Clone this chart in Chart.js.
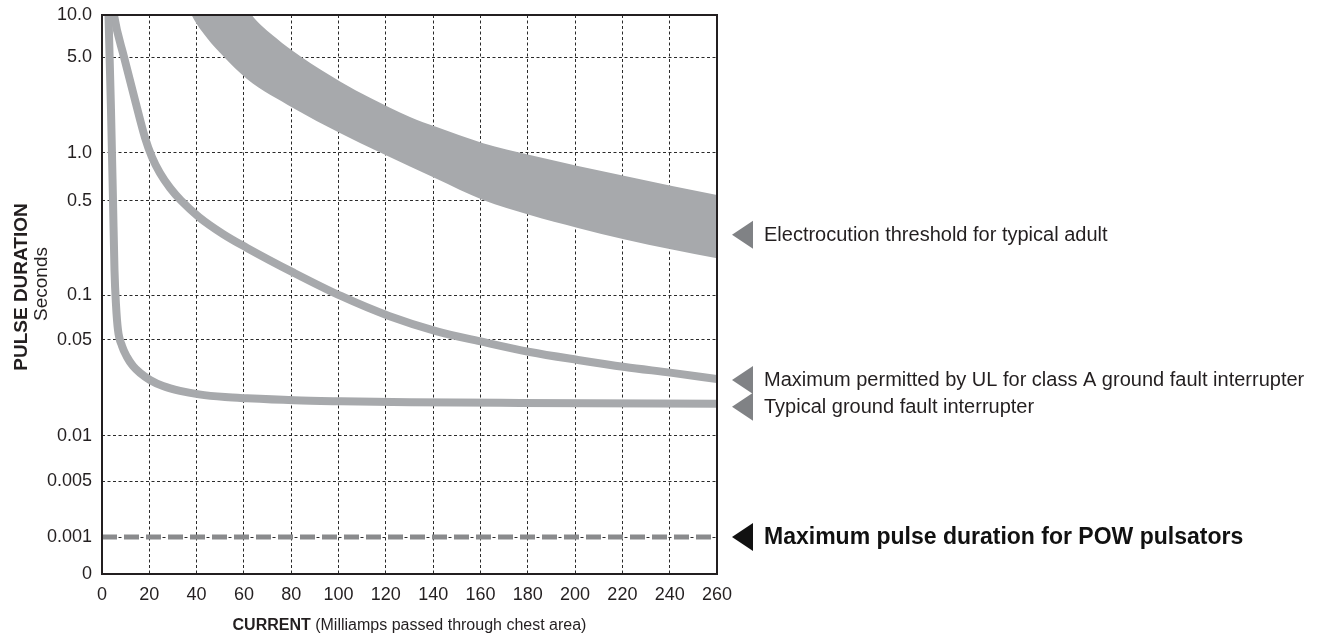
<!DOCTYPE html>
<html>
<head>
<meta charset="utf-8">
<script src="https://cdn.jsdelivr.net/npm/chart.js@4.4.1/dist/chart.umd.min.js"></script>
<style>
  html, body { margin: 0; padding: 0; background: #fff; }
</style>
</head>
<body>
<canvas id="chart" width="1317" height="641"></canvas>
<script>
// Vertical axis: pulse duration (s). The printed grid is roughly logarithmic
// but squeezed below 0.005, so each tick gets its own place on the axis.
const yTickValues = [0, 0.001, 0.005, 0.01, 0.05, 0.1, 0.5, 1, 5, 10];
const yTickLabels = ['0', '0.001', '0.005', '0.01', '0.05', '0.1', '0.5', '1.0', '5.0', '10.0'];
const yTickPlace  = [0, 37, 93, 138, 234, 279, 373, 421, 517, 559];

// Electrocution threshold band (current mA -> seconds); first points sit above the frame
const bandLowCurrent  = [33, 37.9, 44.4, 51.2, 61.3, 80.8, 100.6, 117.6, 130.2, 141.2, 161.1, 180.9, 201.2, 221.1, 241, 260];
const bandLowSeconds  = [16.4, 10, 6.84, 5.08, 3.46, 2.13, 1.40, 1.01, 0.823, 0.692, 0.507, 0.393, 0.315, 0.259, 0.218, 0.188];
const bandHighCurrent = [33, 56.7, 63.3, 73.6, 83.7, 101, 113.3, 130.2, 141.2, 161.1, 180.9, 201.2, 221.1, 241, 260];
const bandHighSeconds = [90, 15.1, 10, 6.84, 5.08, 3.29, 2.52, 1.83, 1.55, 1.18, 0.971, 0.829, 0.717, 0.621, 0.545];

// UL class A GFI limit
const ulCurrent = [3.8, 5.07, 9.3, 13.95, 18.2, 21.1, 24.5, 28.8, 33.4, 41, 51.2, 61.3, 81.2, 101, 121.3, 141.2, 161.1, 180.9, 201.2, 221.1, 241, 260];
const ulSeconds = [15, 10, 5.0, 2.43, 1.29, 0.944, 0.749, 0.603, 0.503, 0.380, 0.284, 0.224, 0.146, 0.0985, 0.0724, 0.0574, 0.0484, 0.0409, 0.0358, 0.0318, 0.0288, 0.0260];

// Typical GFI trip curve
const gfiCurrent = [2.11, 2.75, 3.8, 4.65, 5.28, 5.92, 6.76, 8.46, 10.57, 13.11, 16.07, 20.29, 25.79, 32.98, 41, 52, 61.3, 81.2, 101, 130.2, 176.7, 260];
const gfiSeconds = [17.8, 10, 2.06, 0.503, 0.153, 0.0857, 0.0583, 0.0452, 0.0376, 0.0323, 0.0288, 0.0256, 0.0231, 0.0213, 0.0201, 0.0192, 0.0188, 0.0182, 0.0179, 0.0176, 0.0174, 0.0172];

// POW pulsator maximum
const powCurrent = [0, 260];
const powSeconds = [0.001, 0.001];

const notes = [
  { text: 'Electrocution threshold for typical adult', at: 0.28, bold: false },
  { text: 'Maximum permitted by UL for class A ground fault interrupter', at: 0.0256, bold: false },
  { text: 'Typical ground fault interrupter', at: 0.0163, bold: false },
  { text: 'Maximum pulse duration for POW pulsators', at: 0.001, bold: true }
];

const GREY = '#a7a9ac';
const INK = '#231f20';
const FONT = "'Liberation Sans', Arial, Helvetica, sans-serif";

// seconds -> axis units, log interpolation between ticks, linear below 0.001
function toAxis(v) {
  if (v <= 0) return 0;
  if (v <= 0.001) return v / 0.001 * yTickPlace[1];
  let i = 1;
  while (i < yTickValues.length - 2 && v > yTickValues[i + 1]) i++;
  const a = Math.log10(yTickValues[i]);
  const b = Math.log10(yTickValues[i + 1]);
  return yTickPlace[i] + (Math.log10(v) - a) / (b - a) * (yTickPlace[i + 1] - yTickPlace[i]);
}

function points(xs, ys) {
  return xs.map((x, i) => ({ x: x, y: toAxis(ys[i]) }));
}

const curve = {
  showLine: true,
  pointRadius: 0,
  cubicInterpolationMode: 'monotone',
  borderCapStyle: 'butt',
  clip: 0
};

const frameAndNotes = {
  id: 'frameAndNotes',
  afterDatasetsDraw(chart) {
    const { ctx, chartArea: a } = chart;
    ctx.save();
    ctx.strokeStyle = INK;
    ctx.lineWidth = 2;
    ctx.strokeRect(a.left, a.top, a.right - a.left, a.bottom - a.top);
    ctx.restore();
  },
  afterDraw(chart) {
    const { ctx, chartArea: a } = chart;
    const y = chart.scales.y;
    ctx.save();

    // notes on the right with pointer triangles
    notes.forEach(n => {
      const py = y.getPixelForValue(toAxis(n.at));
      ctx.fillStyle = n.bold ? '#111' : '#808285';
      ctx.beginPath();
      ctx.moveTo(a.right + 15, py);
      ctx.lineTo(a.right + 36, py - 14);
      ctx.lineTo(a.right + 36, py + 14);
      ctx.closePath();
      ctx.fill();
      ctx.fillStyle = n.bold ? '#111' : INK;
      ctx.font = (n.bold ? 'bold 23px ' : '20px ') + FONT;
      ctx.textAlign = 'left';
      ctx.textBaseline = 'middle';
      ctx.fillText(n.text, a.right + 47, py + 1);
    });

    // y axis title
    ctx.fillStyle = INK;
    ctx.textAlign = 'center';
    ctx.textBaseline = 'alphabetic';
    ctx.save();
    ctx.translate(27, 287);
    ctx.rotate(-Math.PI / 2);
    ctx.font = 'bold 19px ' + FONT;
    ctx.fillText('PULSE DURATION', 0, 0);
    ctx.restore();
    ctx.save();
    ctx.translate(47, 284);
    ctx.rotate(-Math.PI / 2);
    ctx.font = '19px ' + FONT;
    ctx.fillText('Seconds', 0, 0);
    ctx.restore();

    // x axis title, bold lead word
    const lead = 'CURRENT';
    const rest = ' (Milliamps passed through chest area)';
    ctx.font = 'bold 16px ' + FONT;
    const w1 = ctx.measureText(lead).width;
    ctx.font = '16px ' + FONT;
    const w2 = ctx.measureText(rest).width;
    const x0 = (a.left + a.right) / 2 - (w1 + w2) / 2;
    ctx.textAlign = 'left';
    ctx.font = 'bold 16px ' + FONT;
    ctx.fillText(lead, x0, 630);
    ctx.font = '16px ' + FONT;
    ctx.fillText(rest, x0 + w1, 630);
    ctx.restore();
  }
};

new Chart(document.getElementById('chart'), {
  type: 'scatter',
  data: {
    datasets: [
      Object.assign({}, curve, {
        data: points(powCurrent, powSeconds),
        borderColor: '#8a8b8d',
        borderWidth: 5,
        borderDash: [15, 7],
        cubicInterpolationMode: 'default',
        tension: 0
      }),
      Object.assign({}, curve, {
        data: points(gfiCurrent, gfiSeconds),
        borderColor: GREY,
        borderWidth: 8
      }),
      Object.assign({}, curve, {
        data: points(ulCurrent, ulSeconds),
        borderColor: GREY,
        borderWidth: 8
      }),
      Object.assign({}, curve, {
        data: points(bandLowCurrent, bandLowSeconds),
        borderWidth: 0,
        borderColor: GREY
      }),
      Object.assign({}, curve, {
        data: points(bandHighCurrent, bandHighSeconds),
        borderWidth: 0,
        borderColor: GREY,
        backgroundColor: GREY,
        fill: '-1'
      })
    ]
  },
  options: {
    responsive: false,
    animation: false,
    layout: { padding: { left: 0, right: 600, top: 15, bottom: 0 } },
    plugins: {
      legend: { display: false },
      tooltip: { enabled: false }
    },
    scales: {
      x: {
        type: 'linear',
        min: 0,
        max: 260,
        ticks: {
          stepSize: 20,
          color: INK,
          padding: 10,
          maxRotation: 0,
          font: { family: FONT, size: 18 }
        },
        grid: { color: '#2a2a2a', lineWidth: 1, drawTicks: false },
        border: { display: false, dash: [3, 2.5] },
        afterFit(s) {
          s.height = 67;
          s.paddingLeft = 0;
          s.paddingRight = 0;
        }
      },
      y: {
        type: 'linear',
        min: 0,
        max: 559,
        afterBuildTicks(s) {
          s.ticks = yTickValues.map(v => ({ value: toAxis(v) }));
        },
        ticks: {
          autoSkip: false,
          color: INK,
          padding: 10,
          font: { family: FONT, size: 18 },
          callback: (v, i) => yTickLabels[i]
        },
        grid: { color: '#2a2a2a', lineWidth: 1, drawTicks: false },
        border: { display: false, dash: [3, 2.5] },
        afterFit(s) {
          s.width = 102;
          s.paddingTop = 0;
          s.paddingBottom = 0;
        }
      }
    }
  },
  plugins: [frameAndNotes]
});
</script>
</body>
</html>
